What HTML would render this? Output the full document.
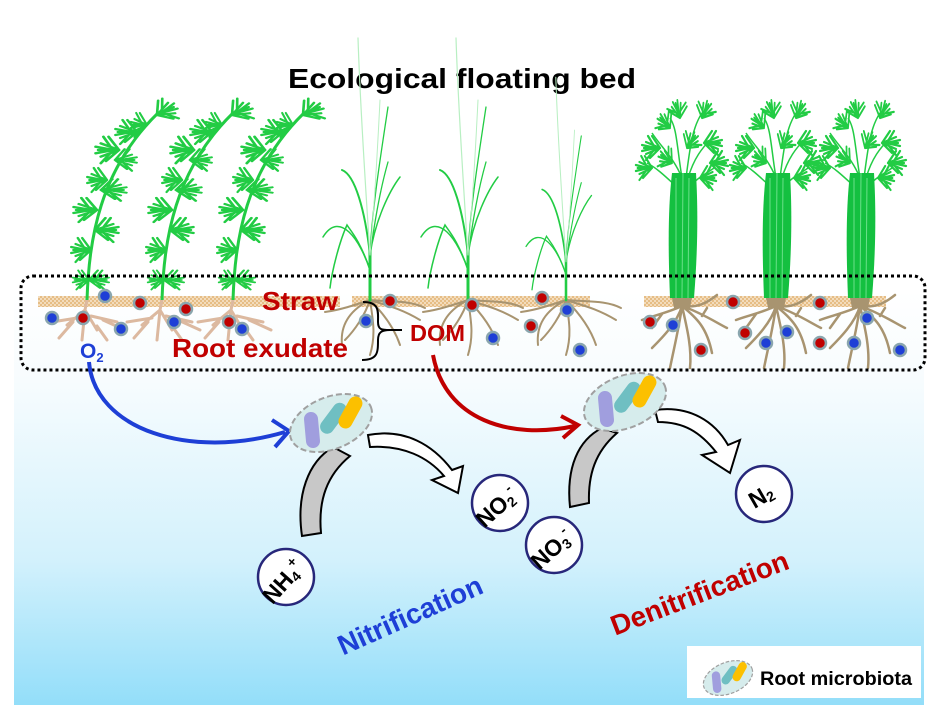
<!DOCTYPE html>
<html><head><meta charset="utf-8"><style>
html,body{margin:0;padding:0;background:#fff}
svg{display:block}
text{font-family:"Liberation Sans",Arial,sans-serif;font-weight:bold}
</style></head><body>
<svg width="943" height="719" viewBox="0 0 943 719" xmlns="http://www.w3.org/2000/svg">
<defs>
<linearGradient id="bg" x1="0" y1="0" x2="0" y2="1">
<stop offset="0" stop-color="#ffffff"/>
<stop offset="0.22" stop-color="#f7fcfe"/>
<stop offset="0.65" stop-color="#d3f1fc"/>
<stop offset="1" stop-color="#93def9"/>
</linearGradient>
<pattern id="straw" width="4" height="4" patternUnits="userSpaceOnUse">
<rect width="4" height="4" fill="#f3dcbc"/><rect width="2" height="2" fill="#e6bd85"/><rect x="2" y="2" width="2" height="2" fill="#e6bd85"/>
</pattern>
<g id="leaf" stroke="#22cc44" stroke-width="2.2" fill="none" stroke-linecap="round">
<path d="M0,0 L-14,-6 M0,0 L-16,0 M0,0 L-14,6 M0,0 L-8,-12 M0,0 L-10,10 M-6,-2 L-12,-12 M-6,2 L-14,12 M-4,0 L-18,-3 M-4,0 L-18,3"/>
</g>
<g id="hornwort">
<path d="M0,0 C2,-60 12,-130 72,-188" stroke="#22cc44" stroke-width="3" fill="none"/>
<use href="#leaf" transform="translate(2,-20) scale(-1.1,0.8)"/>
<use href="#leaf" transform="translate(2,-20) scale(0.9,0.8)"/>
<use href="#leaf" transform="translate(4,-50) scale(1.1,1)"/>
<use href="#leaf" transform="translate(8,-70) scale(-1.3,1)"/>
<use href="#leaf" transform="translate(10,-90) scale(1.3,1)"/>
<use href="#leaf" transform="translate(14,-110) scale(-1.4,0.9)"/>
<use href="#leaf" transform="translate(20,-120) scale(1.1,1)"/>
<use href="#leaf" transform="translate(28,-140) scale(-1.2,0.9)"/>
<use href="#leaf" transform="translate(32,-150) scale(1.3,1.1)"/>
<use href="#leaf" transform="translate(50,-168) scale(1.2,1)"/>
<use href="#leaf" transform="translate(70,-185) scale(-1.2,1) rotate(30)"/>
<use href="#leaf" transform="translate(60,-175) scale(0.9,1)"/>
</g>
<g id="roots1" stroke="#dcb9a0" stroke-width="3" fill="none" stroke-linecap="round">
<path d="M0,0 L-2,10 L-20,25 M-2,10 L10,30 M-2,10 L-5,40 M-10,18 L-35,22 M4,16 L30,22 M-14,22 L-28,38 M10,26 L20,40 M16,20 L38,30"/>
</g>
<g id="grass" fill="none" stroke="#22cc44" stroke-linecap="round">
<path d="M0,0 L0,-50" stroke-width="3"/>
<path d="M0,-45 C-5,-90 -15,-125 -28,-130" stroke-width="2"/>
<path d="M0,-45 C5,-80 20,-110 30,-123" stroke-width="1.5"/>
<path d="M0,-45 C2,-90 10,-140 18,-193" stroke-width="1.3"/>
<path d="M0,-45 C5,-80 10,-110 18,-138" stroke-width="1.3"/>
<path d="M0,-30 C-10,-60 -30,-90 -47,-63" stroke-width="1.5"/>
<path d="M0,-30 C-10,-60 -20,-70 -23,-75 C-30,-60 -38,-30 -40,-12" stroke-width="1.5"/>
<path d="M0,-45 C-5,-120 -10,-200 -12,-262" stroke="#b8efc2" stroke-width="1.2"/>
<path d="M0,-45 C5,-100 8,-160 10,-200" stroke="#b8efc2" stroke-width="1"/>
</g>
<g id="groots" stroke="#a89470" stroke-width="2" fill="none" stroke-linecap="round">
<path d="M0,0 C-15,5 -30,10 -45,12 M0,0 C15,5 30,8 50,20 M0,0 C-5,15 -15,30 -25,40 M0,0 C3,20 6,35 0,55 M0,0 C-20,10 -30,25 -28,45 M0,0 C15,15 25,30 30,45 M0,0 C20,2 40,0 55,8"/>
</g>
<g id="celery">
<g fill="none" stroke="#22cc44" stroke-width="1.5">
<path d="M0,-120 C-8,-140 -20,-150 -30,-165 M0,-120 C-5,-150 -5,-170 -12,-180 M4,-120 C8,-150 10,-170 20,-185 M6,-120 C12,-140 20,-150 30,-160 M-4,-110 C-15,-120 -25,-130 -35,-135 M6,-110 C15,-120 25,-125 32,-130"/>
</g>
<use href="#leaf" transform="translate(-22,-150) scale(1,1)"/>
<use href="#leaf" transform="translate(-30,-130) scale(0.9,1)"/>
<use href="#leaf" transform="translate(-12,-170) scale(0.8,1) rotate(40)"/>
<use href="#leaf" transform="translate(-2,-180) scale(0.8,1) rotate(70)"/>
<use href="#leaf" transform="translate(20,-180) scale(-0.8,1) rotate(60)"/>
<use href="#leaf" transform="translate(22,-155) scale(-1,1)"/>
<use href="#leaf" transform="translate(28,-135) scale(-1,1)"/>
<use href="#leaf" transform="translate(5,-150) scale(-0.8,1) rotate(50)"/>
<use href="#leaf" transform="translate(-10,-135) scale(0.8,1) rotate(30)"/>
<use href="#leaf" transform="translate(18,-120) scale(-0.9,1)"/>
<path d="M-12,0 C-14,-50 -14,-90 -10,-125 L14,-125 C16,-90 16,-50 12,0 Z" fill="#14c040"/>
<path d="M-6,0 L-6,-120 M0,0 L1,-125 M6,0 L7,-120" stroke="#6be08a" stroke-width="1"/>
<path d="M-10,0 L10,0 L8,10 L-8,10 Z" fill="#a89470"/>
<g stroke="#a89470" stroke-width="2.5" fill="none" stroke-linecap="round">
<path d="M0,8 C-15,15 -30,18 -40,22 M0,8 C-5,25 -20,40 -30,50 M0,8 C-3,30 -8,50 -12,70 M0,8 C5,30 10,50 8,70 M0,8 C15,20 25,30 30,55 M0,8 C20,15 35,25 45,30 M2,8 C15,10 25,5 35,-3 M-20,16 L-30,30 M20,18 L25,10"/>
</g>
</g>
<g id="micro">
<ellipse cx="0" cy="0" rx="43" ry="26" fill="#d6ecec" stroke="#a0a0a0" stroke-width="2" stroke-dasharray="6,3"/>
<g transform="rotate(22)">
<line x1="-20" y1="-4" x2="-18" y2="18" stroke="#a09ede" stroke-width="14" stroke-linecap="round"/>
</g>
<line x1="-5" y1="2" x2="13" y2="-9" stroke="#6fbfc2" stroke-width="14" stroke-linecap="round"/>
<line x1="14" y1="4" x2="30" y2="-9" stroke="#fcc000" stroke-width="14" stroke-linecap="round"/>
</g>
</defs>

<rect x="14" y="290" width="910" height="415" fill="url(#bg)"/>

<text x="462" y="88" font-size="28" text-anchor="middle" fill="#000" textLength="348" lengthAdjust="spacingAndGlyphs">Ecological floating bed</text>

<rect x="38" y="296" width="302" height="11" fill="url(#straw)"/>
<rect x="352" y="296" width="238" height="11" fill="url(#straw)"/>
<rect x="644" y="296" width="242" height="11" fill="url(#straw)"/>

<use href="#roots1" transform="translate(87,300)"/>
<use href="#roots1" transform="translate(162,300)"/>
<use href="#roots1" transform="translate(233,300)"/>
<use href="#hornwort" transform="translate(87,300)"/>
<use href="#hornwort" transform="translate(162,300)"/>
<use href="#hornwort" transform="translate(233,300)"/>

<use href="#groots" transform="translate(370,300)"/>
<use href="#groots" transform="translate(468,300)"/>
<use href="#groots" transform="translate(566,300)"/>
<use href="#grass" transform="translate(370,300)"/>
<use href="#grass" transform="translate(468,300)"/>
<use href="#grass" transform="translate(566,300) scale(0.85)"/>

<use href="#celery" transform="translate(682,298)"/>
<use href="#celery" transform="translate(776,298)"/>
<use href="#celery" transform="translate(860,298)"/>

<g stroke="#8aa6ae" stroke-width="2.5">
<g fill="#1e3fd6">
<circle cx="52" cy="318" r="6"/><circle cx="105" cy="296" r="6"/><circle cx="121" cy="329" r="6"/><circle cx="174" cy="322" r="6"/><circle cx="242" cy="329" r="6"/><circle cx="366" cy="321" r="6"/><circle cx="493" cy="338" r="6"/><circle cx="580" cy="350" r="6"/><circle cx="567" cy="310" r="6"/><circle cx="673" cy="325" r="6"/><circle cx="766" cy="343" r="6"/><circle cx="787" cy="332" r="6"/><circle cx="854" cy="343" r="6"/><circle cx="867" cy="318" r="6"/><circle cx="900" cy="350" r="6"/>
</g>
<g fill="#c00000">
<circle cx="83" cy="318" r="6"/><circle cx="140" cy="303" r="6"/><circle cx="186" cy="309" r="6"/><circle cx="229" cy="322" r="6"/><circle cx="390" cy="301" r="6"/><circle cx="472" cy="305" r="6"/><circle cx="542" cy="298" r="6"/><circle cx="531" cy="326" r="6"/><circle cx="650" cy="322" r="6"/><circle cx="701" cy="350" r="6"/><circle cx="733" cy="302" r="6"/><circle cx="745" cy="333" r="6"/><circle cx="820" cy="303" r="6"/><circle cx="820" cy="343" r="6"/>
</g>
</g>

<rect x="21" y="276" width="904" height="94" rx="12" fill="none" stroke="#000" stroke-width="3" stroke-dasharray="3,3"/>

<text x="262" y="310" font-size="26" fill="#c00000" textLength="76" lengthAdjust="spacingAndGlyphs">Straw</text>
<text x="172" y="357" font-size="26" fill="#c00000" textLength="176" lengthAdjust="spacingAndGlyphs">Root exudate</text>
<text x="410" y="341" font-size="23" fill="#c00000" textLength="55" lengthAdjust="spacingAndGlyphs">DOM</text>
<text x="80" y="358" font-size="21" fill="#1e3fd6">O<tspan font-size="13" dy="4">2</tspan></text>
<path d="M363,302 C380,302 378,312 378,322 C378,330 382,330 390,330 C382,330 378,332 378,340 C378,352 378,360 362,360" fill="none" stroke="#000" stroke-width="2"/>
<line x1="390" y1="330" x2="402" y2="330" stroke="#000" stroke-width="2"/>

<path d="M89,362 C95,430 190,460 285,432" fill="none" stroke="#1e3fd6" stroke-width="4"/>
<path d="M272,420 L289,431 L275,447" fill="none" stroke="#1e3fd6" stroke-width="4"/>
<path d="M433,355 C445,420 510,440 575,426" fill="none" stroke="#c00000" stroke-width="4"/>
<path d="M561,416 L578,425 L563,438" fill="none" stroke="#c00000" stroke-width="4"/>

<path d="M302,536 C296,495 308,462 333,447 L350,456 C327,475 318,500 321,533 Z" fill="#c8c8c8" stroke="#000" stroke-width="2"/>
<path d="M570,507 C566,468 578,440 602,428 L617,433 C595,452 588,475 589,503 Z" fill="#c8c8c8" stroke="#000" stroke-width="2"/>

<path d="M368,435 C405,428 433,445 452,470 L463,466 L458,493 L432,480 L444,476 C428,457 403,445 370,447 Z" fill="#fff" stroke="#000" stroke-width="2"/>
<path d="M655,410 C690,405 715,422 728,445 L740,440 L730,473 L702,455 L716,452 C700,432 684,422 658,422 Z" fill="#fff" stroke="#000" stroke-width="2"/>

<use href="#micro" transform="translate(331,423) rotate(-22)"/>
<use href="#micro" transform="translate(625,402) rotate(-22)"/>

<g fill="#fff" stroke="#27277a" stroke-width="2.5">
<circle cx="500" cy="503" r="28"/><circle cx="286" cy="577" r="28"/><circle cx="554" cy="545" r="28"/><circle cx="764" cy="494" r="28"/>
</g>
<text font-size="23" fill="#000" transform="translate(502,513) rotate(-42)" text-anchor="middle">NO<tspan font-size="14" dy="3">2</tspan><tspan font-size="14" dy="-13">-</tspan></text>
<text font-size="23" fill="#000" transform="translate(289,587) rotate(-48)" text-anchor="middle">NH<tspan font-size="14" dy="3">4</tspan><tspan font-size="14" dy="-13">+</tspan></text>
<text font-size="23" fill="#000" transform="translate(557,555) rotate(-42)" text-anchor="middle">NO<tspan font-size="14" dy="3">3</tspan><tspan font-size="14" dy="-13">-</tspan></text>
<text font-size="23" fill="#000" transform="translate(765,503) rotate(-30)" text-anchor="middle">N<tspan font-size="14" dy="2">2</tspan></text>

<text font-size="28" fill="#1e3fd6" transform="translate(414,624) rotate(-24)" text-anchor="middle">Nitrification</text>
<text font-size="28" fill="#c00000" transform="translate(703,602) rotate(-21)" text-anchor="middle">Denitrification</text>

<rect x="687" y="646" width="234" height="52" fill="#fff"/>
<use href="#micro" transform="translate(728,678) rotate(-22) scale(0.6)"/>
<text x="760" y="685" font-size="19" fill="#000" textLength="152" lengthAdjust="spacingAndGlyphs">Root microbiota</text>
</svg>
</body></html>
